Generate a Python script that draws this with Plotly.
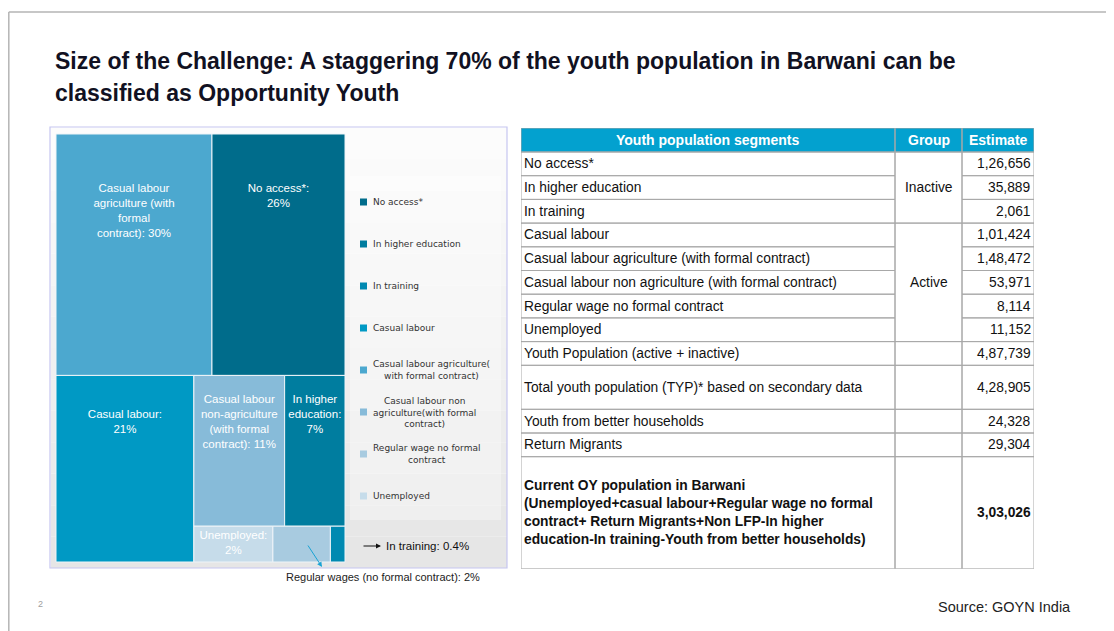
import plotly.graph_objects as go

# ---- data ----
segments = [
    "No access*",
    "In higher education",
    "In training",
    "Casual labour",
    "Casual labour agriculture (with formal contract)",
    "Casual labour non agriculture (with formal contract)",
    "Regular wage no formal contract",
    "Unemployed",
    "Youth Population (active + inactive)",
    "Total youth population (TYP)* based on secondary data",
    "Youth from better households",
    "Return Migrants",
    "<b>Current OY population in Barwani<br>(Unemployed+casual labour+Regular wage no formal<br>"
    "contract+ Return Migrants+Non LFP-In higher<br>education-In training-Youth from better households)</b>",
]
groups = ["Inactive"] * 3 + ["Active"] * 5 + [""] * 5
estimates = [126656, 35889, 2061, 101424, 148472, 53971, 8114, 11152,
             487739, 428905, 24328, 29304, 303026]
table_header = ["Youth population segments", "Group", "Estimate"]

# treemap uses the first eight segments
tm_labels = segments[:8]
tm_values = estimates[:8]
tm_colors = ["#006c8b", "#007d9f", "#0089b1", "#0099c4",
             "#4ca8cf", "#87bbd9", "#a8cbe0", "#c6dcea"]
tm_text = [
    "No access*:<br>{p}%",
    "In higher<br>education:<br>{p}%",
    "",
    "Casual labour:<br>{p}%",
    "Casual labour<br>agriculture (with<br>formal<br>contract): {p}%",
    "Casual labour<br>non-agriculture<br>(with formal<br>contract): {p}%",
    "",
    "Unemployed:<br>{p}%",
]
legend_names = [
    "No access*",
    "In higher education",
    "In training",
    "Casual labour",
    "Casual labour agriculture(<br>with formal contract)",
    "Casual labour non<br>agriculture(with formal<br>contract)",
    "Regular wage no formal<br>contract",
    "Unemployed",
]

# blank lines pushed above each tile label so it sits lower in the tile, like the original
tm_drop = [3, 1, 0, 2, 3, 1, 0, 0]

W, H = 1114, 631
OFF = 8  # the page body margin shifts the figure by 8px
FONT = "Arial, Liberation Sans, sans-serif"


def px(x):
    return (x - OFF) / W


def py(y):
    return 1 - (y - OFF) / H


def indian(n):
    s = str(n)
    if len(s) <= 3:
        return s
    head, tail = s[:-3], s[-3:]
    parts = []
    while len(head) > 2:
        parts.insert(0, head[-2:])
        head = head[:-2]
    if head:
        parts.insert(0, head)
    return ",".join(parts + [tail])


total = sum(tm_values)
shares = [v / total * 100 for v in tm_values]
share_txt = [f"{s:.1f}" if s < 1 else f"{s:.0f}" for s in shares]
texts = ["\u00a0<br>" * d + t.format(p=p) if t else "" for t, p, d in zip(tm_text, share_txt, tm_drop)]

fig = go.Figure()

# ---- treemap ----
fig.add_trace(go.Treemap(
    labels=tm_labels,
    parents=[""] * len(tm_labels),
    values=tm_values,
    text=texts,
    texttemplate="%{text}",
    textposition="top center",
    textfont=dict(family=FONT, size=11.5, color="white"),
    marker=dict(colors=tm_colors, line=dict(color="#eef4f8", width=1),
                pad=dict(t=0, l=0, r=0, b=0)),
    tiling=dict(packing="squarify", squarifyratio=1.5, pad=0),
    pathbar=dict(visible=False),
    sort=True,
    domain=dict(x=[px(56), px(345)], y=[py(562), py(134)]),
    hovertemplate="%{label}: %{value:,}<extra></extra>",
))

shapes = []
annotations = []

# slide border
shapes.append(dict(type="line", xref="paper", yref="paper", x0=px(8.8), x1=1, y0=py(12), y1=py(12),
                   line=dict(color="#b5b5b5", width=1.5)))
shapes.append(dict(type="line", xref="paper", yref="paper", x0=px(8.8), x1=px(8.8), y0=py(12), y1=0,
                   line=dict(color="#b5b5b5", width=1.5)))

# chart frame with a soft vertical gradient
n_bands = 14
for i in range(n_bands):
    y0 = 128 + (568 - 128) * i / n_bands
    y1 = 128 + (568 - 128) * (i + 1) / n_bands
    g = int(252 - 22 * i / (n_bands - 1))
    shapes.append(dict(type="rect", xref="paper", yref="paper", layer="below",
                       x0=px(51), x1=px(507), y0=py(y1), y1=py(y0),
                       fillcolor=f"rgb({g},{g},{g})", line=dict(width=0)))
shapes.append(dict(type="rect", xref="paper", yref="paper", layer="below",
                   x0=px(50), x1=px(507), y0=py(568), y1=py(127),
                   line=dict(color="#c6c6f0", width=1.2)))
# legend panel
shapes.append(dict(type="rect", xref="paper", yref="paper", layer="below",
                   x0=px(350), x1=px(501), y0=py(520), y1=py(176),
                   fillcolor="rgba(255,255,255,0.35)", line=dict(width=0)))
for i, (name, col) in enumerate(zip(legend_names, tm_colors)):
    yc = 202 + 42 * i
    shapes.append(dict(type="rect", xref="paper", yref="paper",
                       x0=px(360), x1=px(367), y0=py(yc + 3.5), y1=py(yc - 3.5),
                       fillcolor=col, line=dict(width=0)))
    annotations.append(dict(xref="paper", yref="paper", x=px(370.5), y=py(yc),
                            xanchor="left", yanchor="middle", align="center",
                            text=name, showarrow=False,
                            font=dict(family="DejaVu Sans, Verdana, sans-serif", size=9, color="#333333")))

# callouts for the two small tiles
annotations.append(dict(xref="paper", yref="paper", x=px(381), y=py(546), ax=-19, ay=0,
                        text="", showarrow=True, arrowhead=2, arrowsize=1, arrowwidth=1,
                        arrowcolor="#111111"))
annotations.append(dict(xref="paper", yref="paper", x=px(384), y=py(546),
                        xanchor="left", yanchor="middle", showarrow=False,
                        text=f"In training: {share_txt[2]}%",
                        font=dict(family=FONT, size=11.5, color="#111111")))
annotations.append(dict(xref="paper", yref="paper", x=px(322), y=py(567), ax=-15, ay=-23,
                        text="", showarrow=True, arrowhead=2, arrowsize=1, arrowwidth=1,
                        arrowcolor="#1aa3d4"))
annotations.append(dict(xref="paper", yref="paper", x=px(383), y=py(577),
                        xanchor="center", yanchor="middle", showarrow=False,
                        text=f"Regular wages (no formal contract): {share_txt[6]}%",
                        font=dict(family=FONT, size=11, color="#222222")))

# ---- table (drawn on its own axis pair) ----
col_w = [374, 67, 72]
head_h = 24
row_h = [23.7] * 9 + [44, 23.7, 23.7, 112]
col_x = [0]
for w in col_w:
    col_x.append(col_x[-1] + w)
row_y = [head_h]
for h in row_h:
    row_y.append(row_y[-1] + h)
tab_w, tab_h = col_x[-1], row_y[-1]
BORDER = dict(color="#a8a8a8", width=1)
TFONT = dict(family=FONT, size=13.8, color="#111111")

shapes.append(dict(type="rect", xref="x2", yref="y2", x0=0, x1=tab_w, y0=0, y1=head_h,
                   fillcolor="#03a1cf", line=dict(width=0)))
for c in range(3):
    shapes.append(dict(type="rect", xref="x2", yref="y2", x0=col_x[c], x1=col_x[c + 1],
                       y0=0, y1=head_h, line=BORDER))
    annotations.append(dict(xref="x2", yref="y2", x=(col_x[c] + col_x[c + 1]) / 2, y=head_h / 2,
                            text=f"<b>{table_header[c]}</b>", showarrow=False,
                            xanchor="center", yanchor="middle",
                            font=dict(family=FONT, size=14, color="white")))

# merged group cells
spans = []
start = 0
for i in range(1, len(groups) + 1):
    if i == len(groups) or groups[i] != groups[start] or groups[i] == "":
        spans.append((start, i, groups[start]))
        start = i
for r0, r1, g in spans:
    shapes.append(dict(type="rect", xref="x2", yref="y2", x0=col_x[1], x1=col_x[2],
                       y0=row_y[r0], y1=row_y[r1], line=BORDER))
    if g:
        annotations.append(dict(xref="x2", yref="y2", x=(col_x[1] + col_x[2]) / 2,
                                y=(row_y[r0] + row_y[r1]) / 2, text=g, showarrow=False,
                                xanchor="center", yanchor="middle", font=TFONT))

for r, (seg, est) in enumerate(zip(segments, estimates)):
    y0, y1 = row_y[r], row_y[r + 1]
    for c in (0, 2):
        shapes.append(dict(type="rect", xref="x2", yref="y2", x0=col_x[c], x1=col_x[c + 1],
                           y0=y0, y1=y1, line=BORDER))
    bold = seg.startswith("<b>")
    annotations.append(dict(xref="x2", yref="y2", x=0.5, y=(y0 + y1) / 2, text=seg,
                            showarrow=False, xanchor="left", yanchor="middle", align="left",
                            font=TFONT))
    val = indian(est)
    annotations.append(dict(xref="x2", yref="y2", x=tab_w - 1, y=(y0 + y1) / 2,
                            text=f"<b>{val}</b>" if bold else val,
                            showarrow=False, xanchor="right", yanchor="middle", font=TFONT))

# invisible anchor trace so the table axes exist
fig.add_trace(go.Scatter(x=[0, tab_w], y=[0, tab_h], xaxis="x2", yaxis="y2", mode="markers",
                         marker=dict(opacity=0), hoverinfo="skip", showlegend=False))

# ---- titles and footer ----
TITLE_FONT = dict(family=FONT, size=23, color="#111122")
annotations.append(dict(xref="paper", yref="paper", x=px(53), y=py(61), xanchor="left", yanchor="middle",
                        text="<b>Size of the Challenge: A staggering 70% of the youth population in Barwani can be</b>",
                        showarrow=False, font=TITLE_FONT))
annotations.append(dict(xref="paper", yref="paper", x=px(53), y=py(93), xanchor="left", yanchor="middle",
                        text="<b>classified as Opportunity Youth</b>",
                        showarrow=False, font=TITLE_FONT))
annotations.append(dict(xref="paper", yref="paper", x=px(1073), y=py(607), xanchor="right", yanchor="middle",
                        text="Source: GOYN India", showarrow=False,
                        font=dict(family=FONT, size=14.5, color="#222222")))
annotations.append(dict(xref="paper", yref="paper", x=px(40), y=py(604), xanchor="center", yanchor="middle",
                        text="2", showarrow=False, font=dict(family=FONT, size=9, color="#a0a0a0")))

fig.update_layout(
    width=W, height=H,
    margin=dict(t=0, b=0, l=0, r=0),
    paper_bgcolor="white",
    plot_bgcolor="rgba(0,0,0,0)",
    showlegend=False,
    xaxis2=dict(domain=[px(521), px(1034)], range=[0, tab_w], visible=False, anchor="y2", fixedrange=True),
    yaxis2=dict(domain=[py(128 + tab_h), py(128)], range=[tab_h, 0], visible=False, anchor="x2", fixedrange=True),
    shapes=shapes,
    annotations=annotations,
)

fig.write_html("out.html")
